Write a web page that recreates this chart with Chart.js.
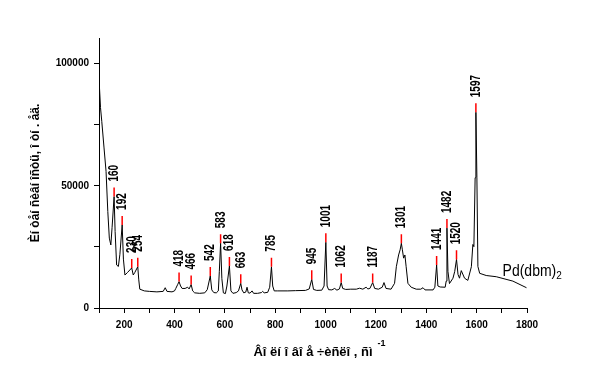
<!DOCTYPE html>
<html>
<head>
<meta charset="utf-8">
<script src="https://cdn.jsdelivr.net/npm/chart.js@4"></script>
<style>
  html, body { margin: 0; padding: 0; background: #fff; }
  #wrap { width: 593px; height: 388px; }
</style>
</head>
<body>
<div id="wrap"><canvas id="ramanChart" width="593" height="388"></canvas></div>
<script>
// spectrum (wavenumber cm-1 / intensity)
var specX = [100, 102, 106, 111, 120, 128, 135, 141, 147, 152, 160, 164, 170, 177, 183, 192, 197, 203, 213, 230, 236, 242, 254, 258, 262,
  280, 300, 330, 355, 363, 370, 390, 400, 405, 412, 418, 424, 430, 442, 452, 458, 466, 472, 480, 500, 520, 530, 542, 548, 556, 566,
  574, 578, 583, 588, 594, 602, 608, 618, 624, 632, 645, 654, 663, 668, 675, 683, 688, 693, 700, 708, 714, 730, 745, 750, 756, 770,
  778, 785, 790, 796, 810, 850, 880, 920, 935, 945, 952, 965, 985, 994, 1001, 1006, 1012, 1025, 1036, 1045, 1055, 1062, 1068, 1080,
  1100, 1122, 1135, 1148, 1161, 1168, 1176, 1187, 1195, 1210, 1225, 1232, 1240, 1260, 1274, 1281, 1290, 1296, 1301, 1305, 1310,
  1315, 1320, 1327, 1340, 1360, 1378, 1387, 1395, 1427, 1434, 1441, 1446, 1455, 1475, 1479, 1482, 1486, 1492, 1506, 1513, 1520,
  1526, 1532, 1539, 1552, 1565, 1579, 1585, 1589, 1594, 1597, 1601, 1605, 1612, 1638, 1678, 1744, 1798];
var specY = [104000, 90000, 82000, 76400, 65500, 55900, 39500, 28600, 25800, 33000, 45600, 31300, 17600, 17000, 22000, 34000, 20000,
  13500, 14500, 16400, 13500, 14500, 16900, 11500, 7700,
  7000, 6800, 6600, 6800, 8300, 6800, 6600, 7000, 8000, 9500, 10800, 9000, 8000, 8000, 8500, 7800, 9600, 7000, 6200, 6000, 6200, 7500,
  13100, 7400, 6300, 6200,
  7000, 15000, 26500, 12000, 6200, 5900, 9000, 17200, 7000, 6000, 6300, 7000, 10100, 7400, 6200, 6500, 8500, 6200, 6100, 7000, 6000,
  6000, 6300, 6800, 6200, 6400,
  8500, 16900, 9000, 7000, 7000, 7000, 7100, 7200, 7800, 11700, 7600, 7200, 7300, 9000, 26900, 9000, 7500, 7400, 8000, 7300, 7800,
  10400, 8000, 7600,
  7700, 7700, 8100, 7700, 8500, 7800, 8000, 10400, 8000, 7700, 8500, 10400, 8000, 7700, 10100, 16900, 21700, 23800, 26500, 23800,
  20400,
  21700, 16900, 10100, 8500, 7700, 7700, 8300, 7400, 7400, 8500, 17600, 9000, 8600, 8500, 11000, 32700, 15000, 10000, 12200, 15000,
  19900,
  13700, 12200, 15300, 12200, 11300, 16900, 26000, 25100, 53300, 80100, 53300, 17000, 14200, 13300, 12800, 11000, 8300];

// labelled peaks
var peakPos = [160, 192, 230, 254, 418, 466, 542, 583, 618, 663, 785, 945, 1001, 1062, 1187, 1301, 1441, 1482, 1520, 1597];
var peakLabels = ["160", "192", "230", "254", "418", "466", "542", "583", "618", "663", "785", "945", "1001", "1062", "1187",
  "1301", "1441", "1482", "1520", "1597"];

var xTickValues = [100, 200, 300, 400, 500, 600, 700, 800, 900, 1000, 1100, 1200, 1300, 1400, 1500, 1600, 1700, 1800];
var yTickValues = [0, 25000, 50000, 75000, 100000];

var xTitle = "Âî ëí î âî å ÷èñëî , ñì";
var yTitle = "Èí òåí ñèâí îñòü, î òí . åä.";
var sampleName = "Pd(dbm)";

var markLen = 3700;   // red marker length, intensity units
var FONT = '"Liberation Sans", Arial, sans-serif';

var specData = specX.map(function (x, i) { return { x: x, y: specY[i] }; });

function peakHeight(p) {
    return specY[specX.indexOf(p)];
}

var markData = [];
peakPos.forEach(function (p) {
    var h = peakHeight(p);
    markData.push({ x: p, y: h });
    markData.push({ x: p, y: h + markLen });
    markData.push({ x: p, y: null });
});

var annotations = {
    id: 'annotations',
    afterDatasetsDraw: function (chart) {
        var ctx = chart.ctx, xs = chart.scales.x, ys = chart.scales.y;
        ctx.save();
        ctx.fillStyle = '#000';
        // peak labels, rotated
        peakPos.forEach(function (p, i) {
            var px = xs.getPixelForValue(p);
            var py = ys.getPixelForValue(peakHeight(p) + markLen) - 6;
            ctx.save();
            ctx.translate(px, py);
            ctx.rotate(-Math.PI / 2);
            ctx.scale(1, 1.45);
            ctx.font = 'bold 10px ' + FONT;
            ctx.textAlign = 'left';
            ctx.textBaseline = 'middle';
            ctx.fillText(peakLabels[i], 0, 0);
            ctx.restore();
        });
        // sample name
        var nx = xs.getPixelForValue(1703), ny = ys.getPixelForValue(13100);
        ctx.save();
        ctx.translate(nx, ny);
        ctx.scale(1, 1.15);
        ctx.font = '14px ' + FONT;
        ctx.textAlign = 'left';
        ctx.textBaseline = 'alphabetic';
        ctx.fillText(sampleName, 0, 0);
        var w = ctx.measureText(sampleName).width;
        ctx.font = '10px ' + FONT;
        ctx.fillText('2', w, 3);
        ctx.restore();
        // superscript on x title
        ctx.font = 'bold 13px ' + FONT;
        var tw = ctx.measureText(xTitle).width;
        var cx = (chart.chartArea.left + chart.chartArea.right) / 2;
        ctx.font = 'bold 9px ' + FONT;
        ctx.textBaseline = 'middle';
        ctx.fillText('-1', cx + tw / 2 + 5, 344);
        ctx.restore();
    }
};

var ctx = document.getElementById("ramanChart").getContext("2d");
new Chart(ctx, {
    type: 'line',
    data: {
        datasets: [
            {
                label: 'markers',
                data: markData,
                borderColor: '#ff0000',
                borderWidth: 1.5,
                pointRadius: 0,
                spanGaps: false,
                fill: false
            },
            {
                label: 'spectrum',
                data: specData,
                borderColor: '#000',
                borderWidth: 1,
                pointRadius: 0,
                tension: 0,
                fill: false
            }
        ]
    },
    options: {
        responsive: false,
        animation: false,
        events: [],
        layout: { padding: { left: 0, top: 38, right: 66, bottom: 0 } },
        plugins: { legend: { display: false }, tooltip: { enabled: false } },
        scales: {
            x: {
                type: 'linear',
                min: 100,
                max: 1800,
                afterBuildTicks: function (s) { s.ticks = xTickValues.map(function (v) { return { value: v }; }); },
                afterFit: function (s) { s.height = 80; },
                ticks: {
                    autoSkip: false,
                    maxRotation: 0,
                    padding: 6,
                    color: '#000',
                    font: { family: FONT, size: 10, weight: 'bold' },
                    callback: function (v) { return v % 200 === 0 ? String(v) : ''; }
                },
                grid: { drawOnChartArea: false, drawTicks: true, tickLength: 5, color: '#000', lineWidth: 1 },
                border: { color: '#000', width: 1 },
                title: {
                    display: true,
                    text: xTitle,
                    color: '#000',
                    font: { family: FONT, size: 13, weight: 'bold' },
                    padding: { top: 0, bottom: 28 }
                }
            },
            y: {
                type: 'linear',
                min: 0,
                max: 110500,
                afterBuildTicks: function (s) { s.ticks = yTickValues.map(function (v) { return { value: v }; }); },
                afterFit: function (s) { s.width = 99; },
                ticks: {
                    padding: 5,
                    color: '#000',
                    font: { family: FONT, size: 10, weight: 'bold' },
                    callback: function (v) { return v % 50000 === 0 ? String(v) : ''; }
                },
                grid: { drawOnChartArea: false, drawTicks: true, tickLength: 5, color: '#000', lineWidth: 1 },
                border: { color: '#000', width: 1 },
                title: {
                    display: true,
                    text: yTitle,
                    color: '#000',
                    font: { family: FONT, size: 12, weight: 'bold' },
                    padding: { top: 28, bottom: 0 }
                }
            }
        }
    },
    plugins: [annotations]
});
</script>
</body>
</html>
